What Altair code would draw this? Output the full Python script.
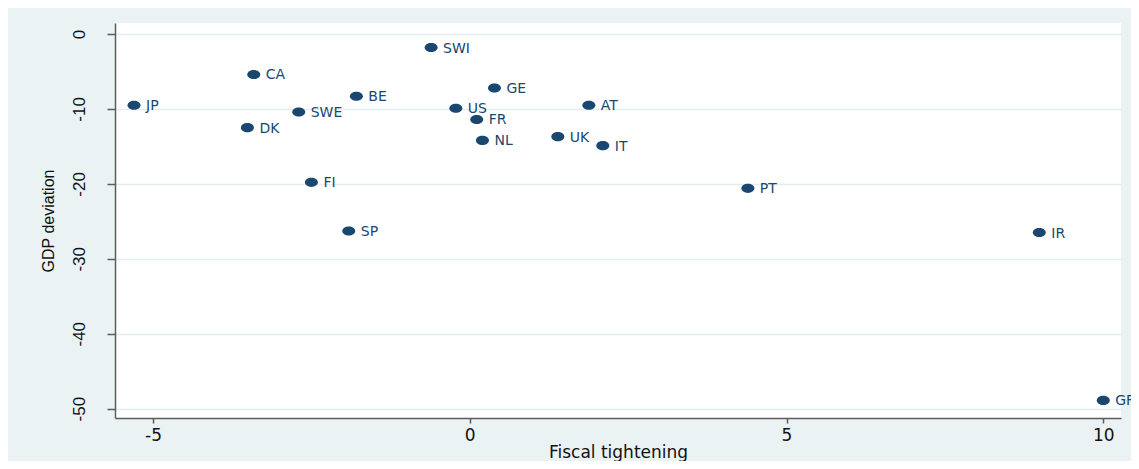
import altair as alt
import pandas as pd

countries = ["JP", "CA", "BE", "SWE", "DK", "FI", "SP", "SWI", "GE", "US",
             "AT", "FR", "NL", "UK", "IT", "PT", "IR", "GR"]
fiscal = [-5.30, -3.41, -1.79, -2.70, -3.51, -2.50, -1.91, -0.61, 0.39, -0.22,
          1.88, 0.11, 0.20, 1.39, 2.10, 4.39, 8.99, 10.0]
gdp = [-9.5, -5.4, -8.3, -10.4, -12.5, -19.8, -26.3, -1.8, -7.2, -9.9,
       -9.5, -11.4, -14.2, -13.7, -14.9, -20.6, -26.5, -48.9]

x_ticks = [-5, 0, 5, 10]
y_ticks = [0, -10, -20, -30, -40, -50]

df = pd.DataFrame({"country": countries, "fiscal": fiscal, "gdp": gdp})

NAVY = "#1a476f"
BG = "#eaf2f3"
GRID = "#e4edef"
AXIS = "#5c5c5c"

xenc = alt.X("fiscal:Q",
             scale=alt.Scale(domain=[-5.6, 10.28], nice=False, zero=False),
             axis=alt.Axis(values=x_ticks, grid=False, tickSize=5, tickWidth=1.5,
                           domainWidth=1.5, domainColor=AXIS, tickColor=AXIS,
                           labelExpr="toString(datum.value)",
                           labelFont="DejaVu Sans", labelFontSize=17, labelColor="#111",
                           labelPadding=4, labelFlush=False,
                           title="Fiscal tightening", titleFont="DejaVu Sans",
                           titleFontSize=17, titleFontWeight="normal", titleColor="#111",
                           titleY=34, titleBaseline="middle"))
yenc = alt.Y("gdp:Q",
             scale=alt.Scale(domain=[-51.25, 1.47], nice=False, zero=False),
             axis=alt.Axis(values=y_ticks, grid=True, gridColor=GRID, gridWidth=1.5,
                           tickSize=8, tickWidth=1.5, domainWidth=1.5,
                           domainColor=AXIS, tickColor=AXIS,
                           labelExpr="toString(datum.value)",
                           labelAngle=270, labelAlign="center", labelBaseline="middle",
                           labelFont="Liberation Sans", labelFontSize=17, labelColor="#111",
                           labelPadding=28, labelFlush=False,
                           title="GDP deviation", titleFont="Liberation Sans",
                           titleFontSize=16, titleFontWeight="normal", titleColor="#111",
                           titleAngle=270, titleX=-67, titleY=197.5,
                           titleAlign="center", titleBaseline="middle"))

ellipse = "M-1,0A1,0.7,0,1,0,1,0A1,0.7,0,1,0,-1,0Z"

points = alt.Chart(df).mark_point(filled=True, opacity=1, shape=ellipse,
                                  size=169, color=NAVY).encode(x=xenc, y=yenc)
labels = alt.Chart(df).mark_text(align="left", baseline="middle", dx=12, dy=1,
                                 font="DejaVu Sans", fontSize=14, color=NAVY).encode(
    x="fiscal:Q", y="gdp:Q", text="country:N")

chart = (points + labels).properties(
    width=1006, height=395,
    padding={"left": 107, "top": 15, "right": 10, "bottom": 43},
    autosize=alt.AutoSizeParams(type="none"),
    background=BG,
).configure_view(fill="white", stroke=None)

chart.save("out.html", embed_options={"renderer": "svg", "actions": False})
